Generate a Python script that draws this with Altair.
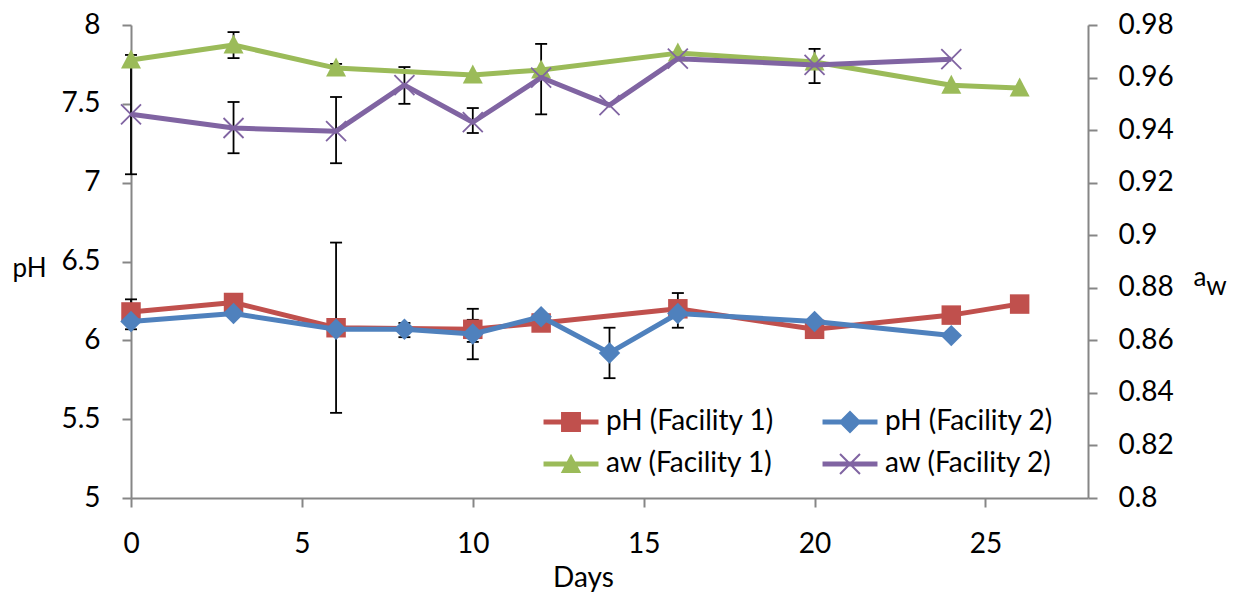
import altair as alt
import pandas as pd

# ---------------- data ----------------
days_ph1 = [0, 3, 6, 10, 12, 16, 20, 24, 26]
ph_fac1 = [6.18, 6.24, 6.08, 6.07, 6.11, 6.20, 6.07, 6.16, 6.23]
days_ph2 = [0, 3, 6, 8, 10, 12, 14, 16, 20, 24]
ph_fac2 = [6.12, 6.17, 6.07, 6.07, 6.04, 6.15, 5.92, 6.17, 6.12, 6.03]
days_aw1 = [0, 3, 6, 10, 12, 16, 20, 24, 26]
aw_fac1 = [0.9667, 0.9724, 0.9636, 0.9610, 0.9629, 0.9693, 0.9659, 0.9571, 0.9560]
days_aw2 = [0, 3, 6, 8, 10, 12, 14, 16, 20, 24]
aw_fac2 = [0.9460, 0.9408, 0.9396, 0.9571, 0.9430, 0.9600, 0.9495, 0.9672, 0.9648, 0.9670]

ph_err_days = [0, 6, 8, 10, 10, 14, 16]
ph_err_low = [6.07, 5.54, 6.02, 5.88, 5.99, 5.76, 6.08]
ph_err_high = [6.26, 6.62, 6.11, 6.20, 6.13, 6.08, 6.30]
aw_err_days = [0, 3, 3, 6, 6, 8, 10, 12, 20]
aw_err_low = [0.9232, 0.9674, 0.9312, 0.9274, 0.9625, 0.9500, 0.9389, 0.9460, 0.9579]
aw_err_high = [0.9686, 0.9773, 0.9507, 0.9526, 0.9652, 0.9640, 0.9484, 0.9728, 0.9709]

# legend order (column-major: column 1 = Facility 1, column 2 = Facility 2)
series_names = ["pH (Facility 1)", "aw (Facility 1)", "pH (Facility 2)", "aw (Facility 2)"]
x_ticks = [0, 5, 10, 15, 20, 25]
ph_ticks = [5, 5.5, 6, 6.5, 7, 7.5, 8]
aw_ticks = [0.8, 0.82, 0.84, 0.86, 0.88, 0.9, 0.92, 0.94, 0.96, 0.98]

# ---------------- style ----------------
FONT = "Lato"
GRAY = "#868686"
RED, BLUE, GREEN, PURPLE = "#C0504D", "#4F81BD", "#9BBB59", "#8064A2"

SQUARE = "square"
DIAMOND = "diamond"
TRIANGLE = "M0,-1.05L1,0.85L-1,0.85Z"
XMARK = "M-1,-1L1,1M-1,1L1,-1"

LINE_P = "M-2.29,-0.21L2.29,-0.21L2.29,0.21L-2.29,0.21Z"
LEG_SQUARE = LINE_P + "M-0.83,-0.83L0.83,-0.83L0.83,0.83L-0.83,0.83Z"
LEG_DIAMOND = LINE_P + "M0,-0.95L0.95,0L0,0.95L-0.95,0Z"
LEG_TRIANGLE = LINE_P + "M0,-0.85L0.85,0.75L-0.85,0.75Z"
LEG_X = (LINE_P + "M-0.771,-0.889L0.889,0.771L0.771,0.889L-0.889,-0.771Z"
         "M-0.889,0.771L0.771,-0.889L0.889,-0.771L-0.771,0.889Z")
LEGEND_COLORS = [RED, GREEN, BLUE, PURPLE]
LEGEND_PATHS = [LEG_SQUARE, LEG_TRIANGLE, LEG_DIAMOND, LEG_X]

x_enc = alt.X(
    "day:Q",
    scale=alt.Scale(domain=[0, 28], nice=False, zero=False),
    axis=alt.Axis(values=x_ticks, format="~g", title="Days", tickSize=9,
                  labelPadding=23, titleX=452, titleY=80,
                  titleAlign="center", titleBaseline="middle"),
)

ph_scale = alt.Scale(domain=[5, 8], nice=False, zero=False)
ph_axis = alt.Axis(values=ph_ticks, format="~g", title="pH", titleAngle=0,
                   titleX=-102, titleY=243, titleAlign="center",
                   titleBaseline="middle", titleFontSize=26,
                   tickSize=9, labelPadding=22)
aw_scale = alt.Scale(domain=[0.8, 0.98], nice=False, zero=False)
aw_axis = alt.Axis(values=aw_ticks, format="~g", orient="right",
                   title=["a", "\u200b\u00a0\u00a0w"], titleAngle=0,
                   titleX=105, titleY=260, titleAlign="left",
                   titleBaseline="alphabetic", titleFontSize=26,
                   titleLineHeight=9, tickSize=9, labelPadding=21)


def series_df(days, vals):
    return pd.DataFrame({"day": days, "v": vals})


def err_df(days, lo, hi):
    return pd.DataFrame({"day": days, "low": lo, "high": hi})


def y_enc(field, scale, axis):
    return alt.Y(field, scale=scale, axis=axis)


def series_layers(df, color, shape, size, filled, scale, axis, sw=1.8):
    base = alt.Chart(df)
    line = base.mark_line(color=color, strokeWidth=5, strokeJoin="round").encode(
        x=x_enc, y=y_enc("v:Q", scale, axis))
    if filled:
        pts = base.mark_point(shape=shape, size=size, filled=True, fill=color,
                              opacity=1, strokeWidth=0)
    else:
        pts = base.mark_point(shape=shape, size=size, filled=False, stroke=color,
                              strokeWidth=sw, opacity=1)
    pts = pts.encode(x=x_enc, y=y_enc("v:Q", scale, axis))
    return [line, pts]


def err_layers(df, scale, axis):
    base = alt.Chart(df)
    rule = base.mark_rule(color="black", strokeWidth=1.8).encode(
        x=x_enc, y=y_enc("low:Q", scale, axis), y2="high:Q")
    caps = base.transform_fold(["low", "high"], as_=["k", "val"]).mark_tick(
        orient="horizontal", color="black", size=12, thickness=1.8, opacity=1
    ).encode(x=x_enc, y=y_enc("val:Q", scale, axis))
    return [rule, caps]


leg = alt.Legend(
    title=None, orient="none", legendX=426, legendY=383, columns=2,
    symbolSize=576, symbolStrokeWidth=0, symbolOpacity=1,
    labelFont=FONT, labelFontSize=28, labelColor="black", labelLimit=400,
    labelOffset=21, rowPadding=14, columnPadding=48, padding=0,
)

legend_layer = alt.Chart(pd.DataFrame({"series": series_names})).mark_point(
    filled=True, opacity=1
).encode(
    color=alt.Color("series:N", scale=alt.Scale(domain=series_names, range=LEGEND_COLORS), legend=leg),
    shape=alt.Shape("series:N", scale=alt.Scale(domain=series_names, range=LEGEND_PATHS), legend=leg),
).transform_filter("false")

ph_group = alt.layer(
    *err_layers(err_df(ph_err_days, ph_err_low, ph_err_high), ph_scale, ph_axis),
    *series_layers(series_df(days_ph1, ph_fac1), RED, SQUARE, 380, True, ph_scale, ph_axis),
    *series_layers(series_df(days_ph2, ph_fac2), BLUE, DIAMOND, 460, True, ph_scale, ph_axis),
    legend_layer,
)

aw_group = alt.layer(
    *err_layers(err_df(aw_err_days, aw_err_low, aw_err_high), aw_scale, aw_axis),
    *series_layers(series_df(days_aw1, aw_fac1), GREEN, TRIANGLE, 400, True, aw_scale, aw_axis),
    *series_layers(series_df(days_aw2, aw_fac2), PURPLE, XMARK, 400, False, aw_scale, aw_axis),
)

chart = alt.layer(ph_group, aw_group).resolve_scale(y="independent").properties(
    width=957, height=473,
    autosize=alt.AutoSizeParams(type="none"),
    padding={"left": 123, "top": 17, "right": 140, "bottom": 100},
    background="white",
).configure_axis(
    labelFont=FONT, labelFontSize=28, labelColor="black",
    titleFont=FONT, titleFontSize=28, titleColor="black", titleFontWeight="normal",
    domainColor=GRAY, domainWidth=2, tickColor=GRAY, tickWidth=2,
    grid=False, labelFlush=False, labelOverlap=False,
).configure_view(stroke=None)

chart.save("out.html", embed_options={"renderer": "svg", "actions": False})
